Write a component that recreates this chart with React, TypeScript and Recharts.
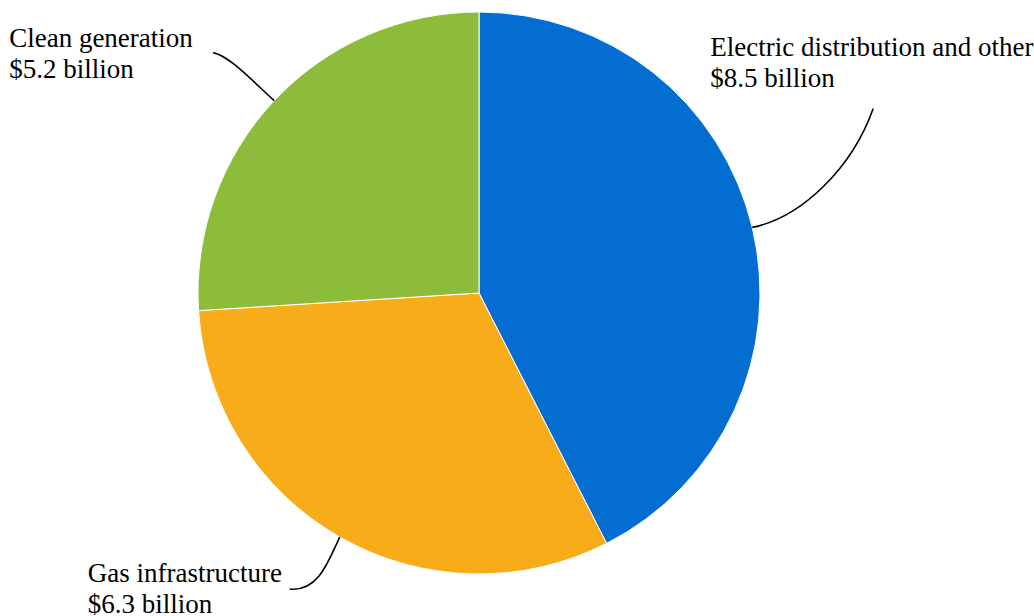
import { PieChart, Pie, Cell } from 'recharts';

const categories = ['Electric distribution and other', 'Gas infrastructure', 'Clean generation'];
const values = [8.5, 6.3, 5.2];
const valueLabels = ['$8.5 billion', '$6.3 billion', '$5.2 billion'];

const colors = ['#036DD1', '#F9AC1A', '#8DBB3A'];

// leader line end offsets (from the slice edge) and text anchor offsets
const labelLayout = [
  { end: [121, -119], c1: [50, -10], c2: [100, -60], text: [-42, -171] },
  { end: [-50, 52], c1: [-10, 20], c2: [-20, 55], text: [-252, 45] },
  { end: [-61, -48], c1: [-20, -18], c2: [-45, -45], text: [-265, -54] },
];

const data = categories.map((name, i) => ({ name, value: values[i], label: valueLabels[i] }));

const RAD = Math.PI / 180;
const FONT = '"Liberation Serif", "Times New Roman", serif';

function renderLabel(props: any) {
  const { cx, cy, midAngle, outerRadius, index } = props;
  const sx = cx + outerRadius * Math.cos(-midAngle * RAD);
  const sy = cy + outerRadius * Math.sin(-midAngle * RAD);
  const l = labelLayout[index];
  const path = `M${sx},${sy} C${sx + l.c1[0]},${sy + l.c1[1]} ${sx + l.c2[0]},${sy + l.c2[1]} ${sx + l.end[0]},${sy + l.end[1]}`;
  const tx = sx + l.text[0];
  const ty = sy + l.text[1];
  return (
    <g key={`lbl-${index}`}>
      <path d={path} stroke="#000" strokeWidth={1.6} fill="none" />
      <text x={tx} y={ty} fill="#000" fontFamily={FONT} fontSize={27}>
        <tspan x={tx} dy={0}>{data[index].name}</tspan>
        <tspan x={tx} dy={31}>{data[index].label}</tspan>
      </text>
    </g>
  );
}

export default function App() {
  return (
    <div style={{ position: 'fixed', left: 0, top: 0, background: '#fff' }}>
      <PieChart width={1034} height={616} margin={{ top: 0, right: 0, bottom: 0, left: 0 }}>
        <Pie
          data={data}
          dataKey="value"
          nameKey="name"
          cx={479}
          cy={293}
          outerRadius={281}
          startAngle={90}
          endAngle={-270}
          stroke="#fff"
          strokeWidth={1}
          label={renderLabel}
          labelLine={false}
          isAnimationActive={false}
        >
          {data.map((d, i) => (
            <Cell key={d.name} fill={colors[i]} />
          ))}
        </Pie>
      </PieChart>
    </div>
  );
}
